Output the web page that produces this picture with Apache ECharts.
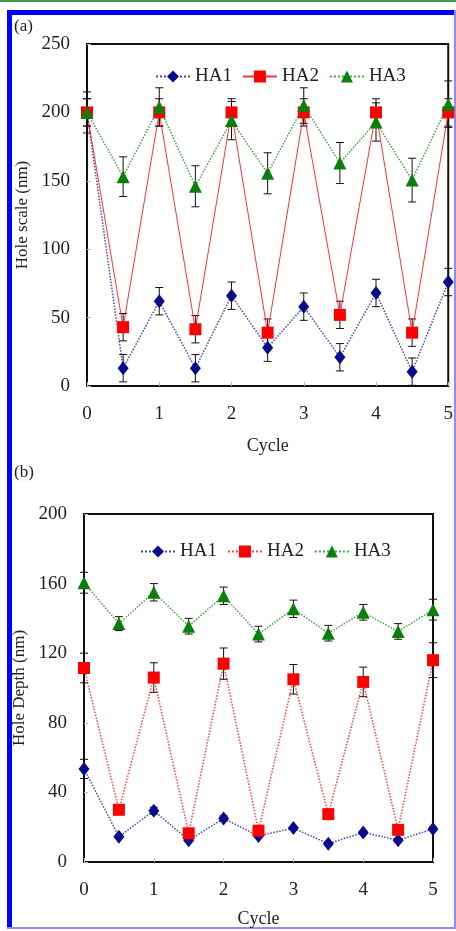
<!DOCTYPE html>
<html>
<head>
<meta charset="utf-8">
<script src="https://cdn.jsdelivr.net/npm/echarts@6/dist/echarts.min.js"></script>
<style>
  html, body { margin: 0; padding: 0; background: #fff; }
  #chart { width: 456px; height: 931px; }
</style>
</head>
<body>
<div id="chart"></div>
<script>
// cycle positions (half cycles)
var cycles = [0, 0.5, 1, 1.5, 2, 2.5, 3, 3.5, 4, 4.5, 5];

// (a) hole scale, nm
var scaleHA1 = [200, 13, 62, 13, 66, 28, 58, 21, 68, 10.5, 76];
var scaleHA1Err = [10, 10, 10, 10, 10, 10, 10, 10, 10, 10, 10];
var scaleHA2 = [200, 43, 200, 41.5, 200, 39, 200, 52, 200, 39, 200];
var scaleHA2Err = [10, 10, 10, 10, 10, 10, 10, 10, 10, 10, 10];
var scaleHA3 = [200, 153, 204, 146, 194, 155.5, 205, 163, 193, 150.5, 206];
var scaleHA3Err = [15, 14.5, 14, 15, 14, 15, 13, 15, 14, 16, 17];

// (b) hole depth, nm
var depthHA1 = [53.5, 14.5, 29.5, 12.5, 25, 15, 19.5, 10.5, 17, 12.5, 19];
var depthHA1Err = [5.5, 1, 2, 1, 1.5, 1, 1, 1, 1, 1, 1];
var depthHA2 = [111.5, 30, 106, 16.5, 114, 18, 105, 27.5, 103.5, 18.5, 116];
var depthHA2Err = [8.5, 1.5, 8.5, 1.5, 9, 1.5, 8.5, 1.5, 8.5, 1.5, 10];
var depthHA3 = [160.5, 137, 155, 135.5, 153, 131, 145.5, 131.5, 143.5, 132.5, 145];
var depthHA3Err = [6, 4, 5, 4.5, 5, 4.5, 5, 4.5, 4.5, 4.5, 6];

var serif = 'Liberation Serif';
var cBlue = '#0a0a8c', cRed = '#ff0000', cGreen = '#0a800a';

function pts(vals) {
    return cycles.map(function (c, i) { return [c, vals[i]]; });
}

function errPts(vals, errs) {
    return cycles.map(function (c, i) { return [c, vals[i], errs[i]]; });
}

// vertical error bar with caps
function errSeries(vals, errs, idx) {
    return {
        type: 'custom',
        xAxisIndex: idx,
        yAxisIndex: idx,
        z: 1,
        silent: true,
        data: errPts(vals, errs),
        renderItem: function (params, api) {
            var x = api.value(0), y = api.value(1), e = api.value(2);
            var top = api.coord([x, y + e]);
            var bot = api.coord([x, y - e]);
            var st = { stroke: '#111', lineWidth: 1 };
            return {
                type: 'group',
                children: [
                    { type: 'line', shape: { x1: top[0], y1: top[1], x2: bot[0], y2: bot[1] }, style: st },
                    { type: 'line', shape: { x1: top[0] - 4, y1: top[1], x2: top[0] + 4, y2: top[1] }, style: st },
                    { type: 'line', shape: { x1: bot[0] - 4, y1: bot[1], x2: bot[0] + 4, y2: bot[1] }, style: st }
                ]
            };
        }
    };
}

function lineSeries(name, vals, idx, color, symbol, size, lineType, z) {
    return {
        name: name,
        type: 'line',
        xAxisIndex: idx,
        yAxisIndex: idx,
        data: pts(vals),
        symbol: symbol,
        symbolSize: size,
        z: z,
        itemStyle: { color: color },
        lineStyle: { color: color, width: lineType == 'solid' ? 1 : 1.5, type: lineType, opacity: lineType == 'solid' ? 0.8 : 0.75 },
        animation: false
    };
}

var chart = echarts.init(document.getElementById('chart'));

var xAxisBase = {
    type: 'value', min: 0, max: 5, interval: 1,
    name: 'Cycle', nameLocation: 'middle',
    nameTextStyle: { fontFamily: serif, fontSize: 18, color: '#222' },
    axisLine: { show: true, lineStyle: { color: '#111', width: 2 } },
    axisTick: { show: true, inside: true, length: 4, lineStyle: { color: '#bbb' } },
    axisLabel: { fontFamily: serif, fontSize: 19, color: '#222', margin: 19 },
    splitLine: { show: false }
};

var yAxisBase = {
    type: 'value', min: 0, nameLocation: 'middle', nameRotate: 90,
    nameTextStyle: { fontFamily: serif, fontSize: 17, color: '#222' },
    axisLine: { show: true, lineStyle: { color: '#111', width: 2 } },
    axisTick: { show: true, inside: true, length: 4, lineStyle: { color: '#bbb' } },
    axisLabel: { fontFamily: serif, fontSize: 19, color: '#222', margin: 17 },
    splitLine: { show: false }
};

var legendBase = {
    orient: 'horizontal',
    itemWidth: 34,
    itemHeight: 15,
    itemGap: 10,
    textStyle: { fontFamily: serif, fontSize: 19, color: '#222' },
    formatter: function (n) { return n.trim(); },
    selectedMode: false
};

var option = {
    backgroundColor: '#fff',
    animation: false,
    grid: [
        { left: 87, top: 44, width: 362, height: 342, show: true, borderColor: '#111', borderWidth: 2, backgroundColor: 'transparent' },
        { left: 84, top: 514, width: 349, height: 348, show: true, borderColor: '#111', borderWidth: 2, backgroundColor: 'transparent' }
    ],
    xAxis: [
        Object.assign({}, xAxisBase, { gridIndex: 0, nameGap: 51 }),
        Object.assign({}, xAxisBase, { gridIndex: 1, nameGap: 48 })
    ],
    yAxis: [
        Object.assign({}, yAxisBase, { gridIndex: 0, max: 250, interval: 50, name: 'Hole scale (nm)', nameGap: 49 }),
        Object.assign({}, yAxisBase, { gridIndex: 1, max: 200, interval: 40, name: 'Hole Depth (nm)', nameGap: 46 })
    ],
    legend: [
        Object.assign({}, legendBase, { left: 150, top: 62, data: ['HA1', 'HA2', 'HA3'] }),
        Object.assign({}, legendBase, { left: 135, top: 537, data: ['HA1 ', 'HA2 ', 'HA3 '] })
    ],
    graphic: [
        { type: 'rect', shape: { x: 0, y: 0, width: 456, height: 2 }, style: { fill: '#3c9a48' } },
        { type: 'rect', shape: { x: 7, y: 10, width: 449, height: 5 }, style: { fill: '#0000ff' } },
        { type: 'rect', shape: { x: 7, y: 10, width: 5, height: 919 }, style: { fill: '#0000ff' } },
        { type: 'rect', shape: { x: 7, y: 927, width: 449, height: 2 }, style: { fill: '#8c8cff' } },
        { type: 'rect', shape: { x: 454, y: 10, width: 2, height: 919 }, style: { fill: '#8c8cff' } },
        { type: 'text', left: 14, top: 18, style: { text: '(a)', fontFamily: serif, fontSize: 17, fill: '#222' } },
        { type: 'text', left: 14, top: 464, style: { text: '(b)', fontFamily: serif, fontSize: 17, fill: '#222' } }
    ],
    series: [
        errSeries(scaleHA1, scaleHA1Err, 0),
        errSeries(scaleHA2, scaleHA2Err, 0),
        errSeries(scaleHA3, scaleHA3Err, 0),
        lineSeries('HA1', scaleHA1, 0, cBlue, 'diamond', [11, 14], 'dotted', 3),
        lineSeries('HA2', scaleHA2, 0, cRed, 'rect', 12, 'solid', 4),
        lineSeries('HA3', scaleHA3, 0, cGreen, 'triangle', 13, 'dotted', 5),
        errSeries(depthHA1, depthHA1Err, 1),
        errSeries(depthHA2, depthHA2Err, 1),
        errSeries(depthHA3, depthHA3Err, 1),
        lineSeries('HA1 ', depthHA1, 1, cBlue, 'diamond', [11, 14], 'dotted', 3),
        lineSeries('HA2 ', depthHA2, 1, cRed, 'rect', 12, 'dotted', 4),
        lineSeries('HA3 ', depthHA3, 1, cGreen, 'triangle', 13, 'dotted', 5)
    ]
};

chart.setOption(option);
</script>
</body>
</html>
